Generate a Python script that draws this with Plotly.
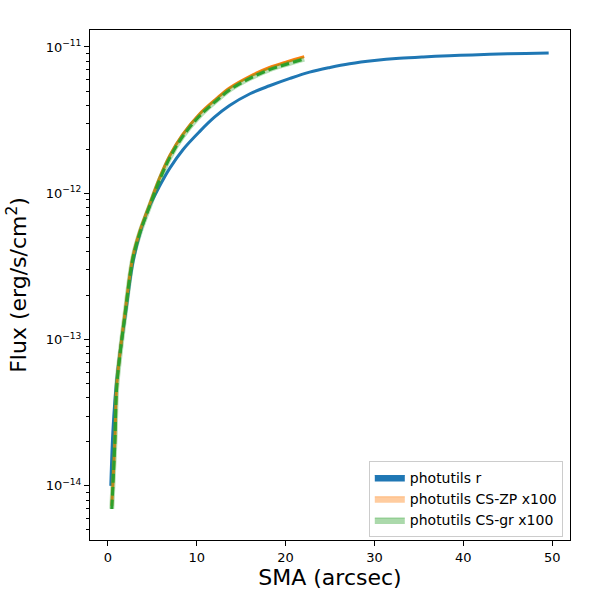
import plotly.graph_objects as go

# photutils r band profile
sma_r = [0.34, 0.6, 1.0, 1.5, 2.0, 2.8, 3.6, 4.5, 5.8, 7.0, 8.5, 10.3, 12.0, 13.7,
         16.0, 18.2, 20.5, 22.7, 25.0, 27.2, 30.0, 32.8, 35.5, 38.4, 41.0, 44.0, 47.0, 49.6]
flux_r = [1.0e-14, 2.5e-14, 5.25e-14, 9.3e-14, 1.51e-13, 3.31e-13, 5.25e-13, 7.66e-13, 1.11e-12,
          1.49e-12, 2.0e-12, 2.63e-12, 3.31e-12, 3.98e-12, 4.79e-12, 5.43e-12, 6.10e-12,
          6.73e-12, 7.24e-12, 7.67e-12, 8.07e-12, 8.36e-12, 8.55e-12, 8.71e-12, 8.83e-12,
          8.95e-12, 9.04e-12, 9.10e-12]

# CS profiles (x100)
sma_cs = [0.45, 0.8, 1.0, 1.4, 1.9, 2.8, 3.6, 4.5, 5.8, 7.0, 8.4, 10.3, 12.2, 13.7,
          16.0, 18.2, 20.2, 22.1]
flux_zp = [7.3e-15, 2.04e-14, 4.79e-14, 8.32e-14, 1.46e-13, 3.63e-13, 5.50e-13, 7.76e-13,
           1.26e-12, 1.82e-12, 2.51e-12, 3.47e-12, 4.42e-12, 5.25e-12, 6.31e-12, 7.24e-12,
           7.94e-12, 8.59e-12]
flux_gr = [6.95e-15, 1.98e-14, 4.66e-14, 8.1e-14, 1.42e-13, 3.53e-13, 5.34e-13, 7.54e-13,
           1.22e-12, 1.76e-12, 2.43e-12, 3.36e-12, 4.28e-12, 5.08e-12, 6.1e-12, 6.99e-12,
           7.65e-12, 8.27e-12]

x_ticks = [0, 10, 20, 30, 40, 50]
y_ticks = [1e-14, 1e-13, 1e-12, 1e-11]
y_ticktext = ["10<sup>\u221214</sup>", "10<sup>\u221213</sup>",
              "10<sup>\u221212</sup>", "10<sup>\u221211</sup>"]

BLUE = "#1f77b4"
ORANGE = "#ff7f0e"
GREEN = "#2ca02c"
FONT = "DejaVu Sans"

fig = go.Figure()

fig.add_trace(go.Scatter(x=sma_r, y=flux_r, mode="lines", line=dict(color=BLUE, width=3, shape="spline"),
                         showlegend=False))
fig.add_trace(go.Scatter(x=sma_cs, y=flux_zp, mode="lines", line=dict(color=ORANGE, width=3, shape="spline"),
                         showlegend=False))
fig.add_trace(go.Scatter(x=sma_cs, y=flux_gr, mode="lines",
                         line=dict(color="rgba(44,160,44,0.35)", width=5, shape="spline"),
                         showlegend=False))
fig.add_trace(go.Scatter(x=sma_cs, y=flux_gr, mode="lines",
                         line=dict(color=GREEN, width=3, dash="9px,4px", shape="spline"),
                         showlegend=False))

# legend patches
for name, col in [("photutils r", BLUE),
                  ("photutils CS-ZP x100", "rgba(255,127,14,0.4)"),
                  ("photutils CS-gr x100", "rgba(44,160,44,0.4)")]:
    fig.add_trace(go.Scatter(x=[None], y=[None], mode="lines", fill="toself", fillcolor=col,
                             line=dict(color=col, width=1), name=name))

minor_vals = [m * 10.0 ** e for e in range(-15, -10) for m in range(2, 10)]

axis_common = dict(showline=True, linecolor="black", linewidth=1, mirror=True, automargin=False,
                   ticks="outside", ticklen=5, tickcolor="black", showgrid=False, zeroline=False,
                   tickfont=dict(family=FONT, size=13, color="black"))

fig.update_xaxes(range=[-2.0, 52.0], tickvals=x_ticks,
                 title=dict(text="SMA (arcsec)", font=dict(family=FONT, size=22, color="black"), standoff=6),
                 **axis_common)
fig.update_yaxes(type="log", range=[-14.37, -10.884], tickvals=y_ticks, ticktext=y_ticktext,
                 minor=dict(tickvals=minor_vals, ticks="outside", ticklen=3, tickcolor="black", showgrid=False),
                 title=dict(text="Flux (erg/s/cm<sup>2</sup>)", font=dict(family=FONT, size=22, color="black"),
                            standoff=12),
                 **axis_common)

fig.update_layout(
    width=600, height=600,
    margin=dict(l=90, r=30, t=30, b=60),
    plot_bgcolor="white", paper_bgcolor="white",
    font=dict(family=FONT, color="black"),
    legend=dict(x=0.985, y=0.006, xanchor="right", yanchor="bottom",
                bgcolor="white", bordercolor="#cccccc", borderwidth=1,
                font=dict(family=FONT, size=14), tracegroupgap=0),
)

fig.write_html("out.html", config={"displayModeBar": False},
               post_script="document.body.style.margin='0';")
